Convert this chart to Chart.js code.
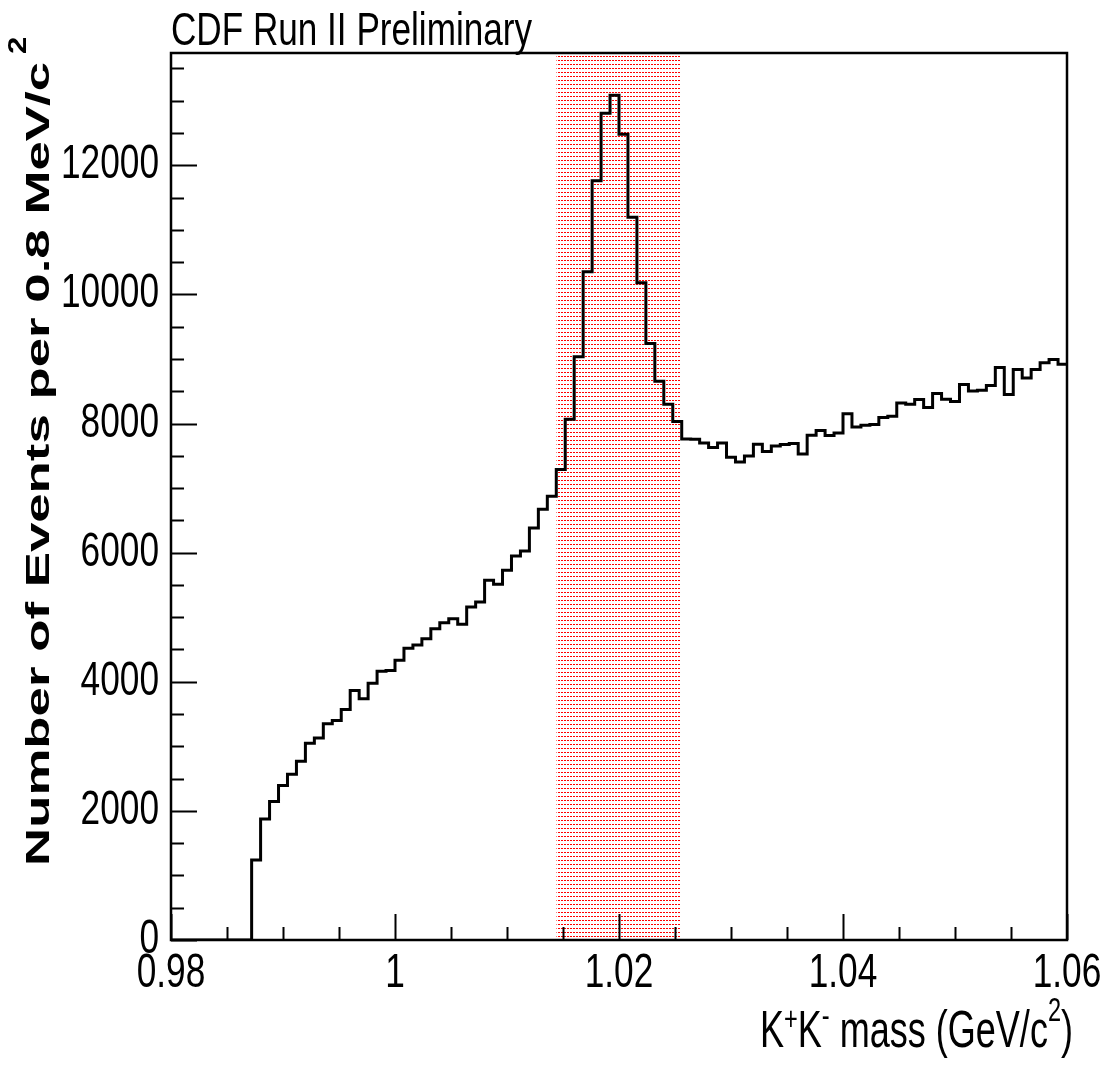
<!DOCTYPE html>
<html>
<head>
<meta charset="utf-8">
<script src="https://cdn.jsdelivr.net/npm/chart.js@4"></script>
<style>
  html, body { margin: 0; padding: 0; background: #fff; }
  #wrap { width: 1109px; height: 1065px; }
</style>
</head>
<body>
<div id="wrap"><canvas id="massChart" width="1109" height="1065"></canvas></div>
<script>
// K+K- invariant mass, 0.8 MeV bins from 0.98 to 1.06 GeV/c^2
const binStart = 0.98;
const binWidth = 0.0008;
const counts = [
  0, 0, 0, 0, 0, 0, 0, 0, 0, 1240,
  1876, 2144, 2392, 2568, 2769, 3048, 3131, 3349, 3400, 3571,
  3865, 3736, 3978, 4164, 4175, 4335, 4521, 4570, 4667, 4822,
  4915, 4977, 4893, 5157, 5234, 5571, 5509, 5726, 5947, 6025,
  6381, 6671, 6873, 7287, 8065, 9033, 10350, 11762, 12806, 13085,
  12481, 11194, 10180, 9240, 8656, 8300, 8030, 7760, 7757, 7700,
  7628, 7700, 7478, 7405, 7498, 7679, 7566, 7653, 7674, 7690,
  7529, 7819, 7891, 7814, 7855, 8150, 7945, 7974, 7984, 8093,
  8113, 8320, 8299, 8372, 8248, 8465, 8377, 8341, 8605, 8506,
  8516, 8589, 8868, 8450, 8837, 8707, 8837, 8940, 8992, 8920
];
const signalWindow = [1.0144, 1.0255];
const xTicks = [0.98, 1.0, 1.02, 1.04, 1.06];
const yTicks = [0, 2000, 4000, 6000, 8000, 10000, 12000];
const xRange = [0.98, 1.06];
const yMax = 13740;

const histPoints = () => {
  const pts = counts.map((c, i) => ({ x: binStart + i * binWidth, y: c }));
  pts.push({ x: binStart + counts.length * binWidth, y: counts[counts.length - 1] });
  return pts;
};

// ROOT-like dotted fill: short red dashes in rows
const makeDotPattern = () => {
  const tile = document.createElement('canvas');
  tile.width = 3;
  tile.height = 4;
  const t = tile.getContext('2d');
  t.fillStyle = 'rgb(255,0,0)';
  t.fillRect(0, 0, 2, 1);
  return document.getElementById('massChart').getContext('2d').createPattern(tile, 'repeat');
};

const sans = '"Liberation Sans", Arial, Helvetica, sans-serif';
const labelFont = '49px ' + sans;
const squeeze = 0.72; // ROOT's Helvetica comes out condensed

// text squeezed horizontally around its anchor
const drawCondensed = (ctx, text, x, y, font, sx, align) => {
  ctx.save();
  ctx.font = font;
  const w = ctx.measureText(text).width * sx;
  let left = x;
  if (align === 'right') left = x - w;
  if (align === 'center') left = x - w / 2;
  ctx.translate(left, y);
  ctx.scale(sx, 1);
  ctx.textAlign = 'left';
  ctx.textBaseline = 'alphabetic';
  ctx.fillText(text, 0, 0);
  ctx.restore();
  return w;
};

const fmtX = v => String(+Number(v).toFixed(2));

// frame, inward ticks, labels and the text ROOT puts around the pad
const framePlugin = {
  id: 'frame',
  afterDatasetsDraw(chart) {
    const { ctx, chartArea: a, scales: { x, y } } = chart;
    ctx.save();
    ctx.strokeStyle = '#000';
    ctx.lineWidth = 2;
    ctx.beginPath();
    for (let v = xRange[0]; v <= xRange[1] + 1e-9; v += 0.005) {
      const px = Math.round(x.getPixelForValue(v)) + 0.5;
      const major = xTicks.some(t => Math.abs(t - v) < 1e-6);
      ctx.moveTo(px, a.bottom);
      ctx.lineTo(px, a.bottom - (major ? 26 : 13));
    }
    for (let v = 0; v <= yMax; v += 500) {
      const py = Math.round(y.getPixelForValue(v)) + 0.5;
      const major = v % 2000 === 0;
      ctx.moveTo(a.left, py);
      ctx.lineTo(a.left + (major ? 26 : 13), py);
    }
    ctx.stroke();
    ctx.lineWidth = 2.5;
    ctx.strokeRect(a.left, a.top, a.right - a.left, a.bottom - a.top);
    ctx.restore();
  },
  afterDraw(chart) {
    const { ctx, chartArea: a, scales: { x, y } } = chart;
    ctx.save();
    ctx.fillStyle = '#000';

    // tick labels, placed by the library's scales
    x.ticks.forEach(t => {
      drawCondensed(ctx, fmtX(t.value), x.getPixelForValue(t.value), a.bottom + 47, labelFont, squeeze, 'center');
    });
    y.ticks.forEach(t => {
      drawCondensed(ctx, String(t.value), a.left - 12, y.getPixelForValue(t.value) + 13, labelFont, squeeze, 'right');
    });

    // pad title
    ctx.font = '46px ' + sans;
    const titleText = 'CDF Run II Preliminary';
    drawCondensed(ctx, titleText, a.left, 45, '46px ' + sans, 361 / ctx.measureText(titleText).width, 'left');

    // x axis title with superscripts, right aligned past the frame
    const big = '52px ' + sans;
    const small = '34px ' + sans;
    const parts = [
      ['K', big, 0], ['+', small, -17], ['K', big, 0], ['-', small, -20],
      [' mass (GeV/c', big, 0], ['2', small, -26], [')', big, 0]
    ];
    let total = 0;
    parts.forEach(p => { ctx.font = p[1]; total += ctx.measureText(p[0]).width; });
    const sx = 313 / total;
    let cx = 760;
    parts.forEach(p => {
      cx += drawCondensed(ctx, p[0], cx, 1047 + p[2], p[1], sx, 'left');
    });

    // y axis title, bold and stretched along the text like the original
    ctx.translate(49, 866);
    ctx.rotate(-Math.PI / 2);
    ctx.font = 'bold 34px ' + sans;
    const label = 'Number of Events per 0.8 MeV/c';
    const w = ctx.measureText(label).width;
    const len = drawCondensed(ctx, label, 0, 0, 'bold 34px ' + sans, 804 / w, 'left');
    drawCondensed(ctx, '2', len + 8, -23, 'bold 26px ' + sans, 1.2, 'left');
    ctx.restore();
  }
};

const ctx = document.getElementById('massChart').getContext('2d');
new Chart(ctx, {
  type: 'line',
  data: {
    datasets: [
      {
        label: 'signal window',
        data: [{ x: signalWindow[0], y: yMax }, { x: signalWindow[1], y: yMax }],
        borderWidth: 0,
        pointRadius: 0,
        fill: 'origin',
        backgroundColor: makeDotPattern(),
        order: 2
      },
      {
        label: 'K+K- mass',
        data: histPoints(),
        stepped: 'before',
        borderColor: '#000',
        borderWidth: 3,
        pointRadius: 0,
        fill: false,
        order: 1
      }
    ]
  },
  options: {
    responsive: false,
    animation: false,
    devicePixelRatio: 1,
    layout: { padding: { top: 53, right: 42, left: 0, bottom: 0 } },
    plugins: { legend: { display: false }, tooltip: { enabled: false }, title: { display: false } },
    scales: {
      x: {
        type: 'linear',
        min: xRange[0],
        max: xRange[1],
        grid: { display: false, drawTicks: false },
        border: { display: false },
        afterBuildTicks: axis => { axis.ticks = xTicks.map(v => ({ value: v })); },
        afterFit: scale => { scale.height = 125; },
        ticks: { display: false }
      },
      y: {
        type: 'linear',
        min: 0,
        max: yMax,
        grid: { display: false, drawTicks: false },
        border: { display: false },
        afterBuildTicks: axis => { axis.ticks = yTicks.map(v => ({ value: v })); },
        afterFit: scale => { scale.width = 171; },
        ticks: { display: false }
      }
    }
  },
  plugins: [framePlugin]
});
</script>
</body>
</html>
